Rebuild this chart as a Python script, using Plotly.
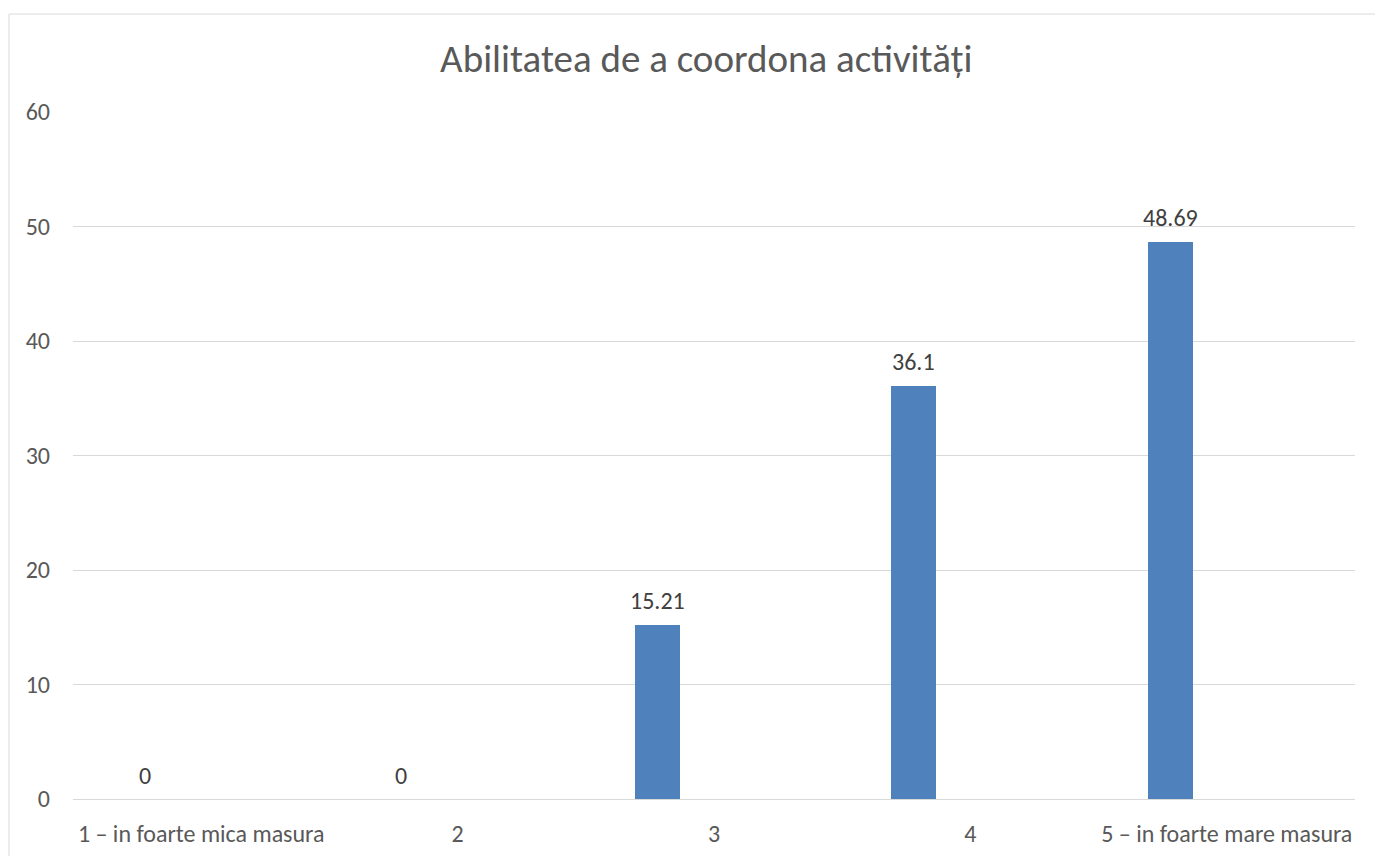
import plotly.graph_objects as go

categories = ["1 – in foarte mica masura", "2", "3", "4", "5 – in foarte mare masura"]
values = [0, 0, 15.21, 36.1, 48.69]
value_labels = ["0", "0", "15.21", "36.1", "48.69"]
y_ticks = [0, 10, 20, 30, 40, 50, 60]

FONT = "Carlito, Calibri, 'Open Sans', sans-serif"
BAR_W = 0.1755
BAR_OFF = -0.308

fig = go.Figure()
fig.add_trace(go.Bar(
    x=categories, y=values,
    width=[BAR_W] * len(categories), offset=[BAR_OFF] * len(categories),
    marker=dict(color="#4f81bd", line=dict(width=0)),
    hoverinfo="x+y", showlegend=False,
))

for i, (v, t) in enumerate(zip(values, value_labels)):
    fig.add_annotation(x=i, y=v, xref="x", yref="y", text=t, showarrow=False,
                       xshift=-56.5, yshift=24, yanchor="middle",
                       font=dict(family=FONT, size=24, color="#404040"))

# chart-area border (left and top edges visible in the reference)
fig.add_shape(type="line", xref="paper", yref="paper",
              x0=-0.0499, x1=-0.0499, y0=-0.5, y1=1.1426,
              line=dict(color="#d9d9d9", width=1), layer="below")
fig.add_shape(type="line", xref="paper", yref="paper",
              x0=-0.0499, x1=1.2, y0=1.1426, y1=1.1426,
              line=dict(color="#d9d9d9", width=1), layer="below")

fig.update_layout(
    width=1375, height=856,
    margin=dict(l=73, r=20, t=112, b=57, autoexpand=False),
    paper_bgcolor="white", plot_bgcolor="white",
    title=dict(text="Abilitatea de a coordona activități", xref="paper", x=0.494, xanchor="center",
               yref="container", y=1 - 58 / 856, yanchor="middle",
               font=dict(family=FONT, size=39, color="#595959")),
    xaxis=dict(type="category", showgrid=False, showline=False, zeroline=False, ticks="",
               tickfont=dict(family=FONT, size=24, color="#595959"), ticklabelstandoff=18,
               fixedrange=True),
    yaxis=dict(range=[0, 60], tickvals=y_ticks, showgrid=True, gridcolor="#d9d9d9", gridwidth=1,
               zeroline=True, zerolinecolor="#d9d9d9", zerolinewidth=1, showline=False, ticks="",
               tickfont=dict(family=FONT, size=24, color="#595959"), ticklabelstandoff=22,
               fixedrange=True),
    bargap=0,
)

fig.write_html("out.html", config={"displayModeBar": False}, post_script=(
    "document.body.style.margin='0';"
    "document.documentElement.style.overflow='hidden';"
    "document.body.style.overflow='hidden';"
))
